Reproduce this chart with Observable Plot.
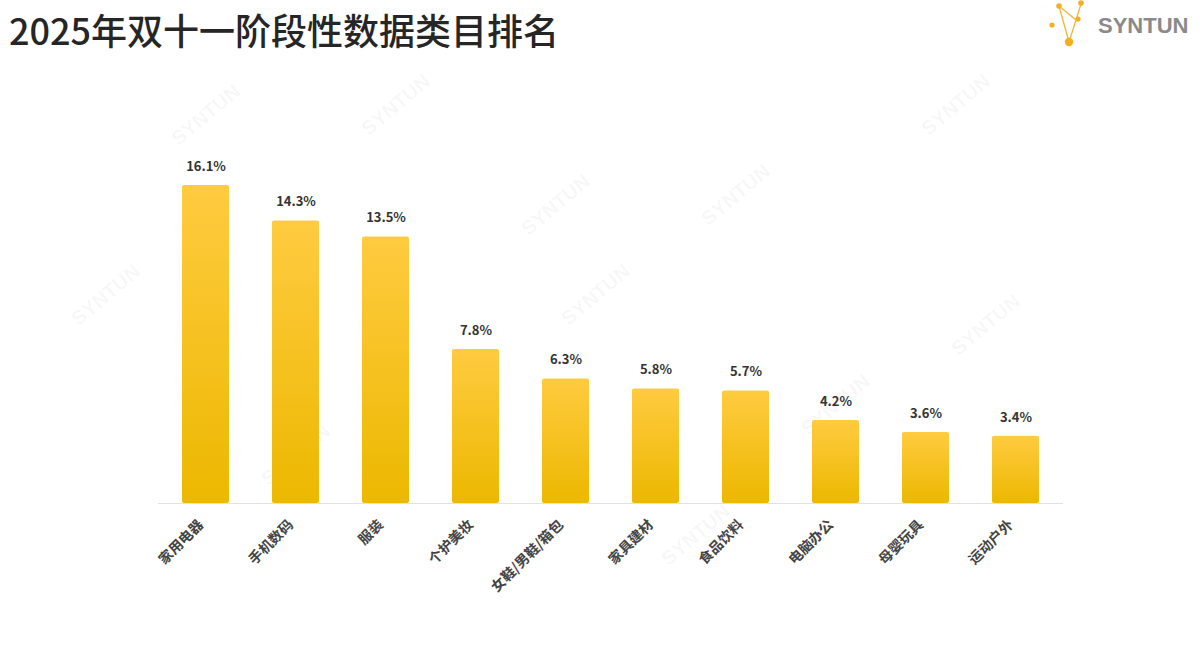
<!DOCTYPE html>
<html>
<head>
<meta charset="utf-8">
<script src="https://cdn.jsdelivr.net/npm/d3@7"></script>
<script src="https://cdn.jsdelivr.net/npm/@observablehq/plot@0.6"></script>
<style>
  html, body { margin: 0; padding: 0; background: #fff; }
  #wrap { position: relative; width: 1200px; height: 648px; overflow: hidden; font-family: "Noto Sans CJK SC", "Noto Sans", sans-serif; }
  #title { position: absolute; left: 9px; top: 11px; font-size: 36px; line-height: 36px; font-weight: 500; color: #262626; white-space: nowrap; }
  #logo { position: absolute; left: 1040px; top: 0px; }
  #chart { position: absolute; left: 0; top: 0; }
</style>
</head>
<body>
<div id="wrap">
  <div id="chart"></div>
  <div id="title">2025年双十一阶段性数据类目排名</div>
  <svg id="logo" width="160" height="50" viewBox="0 0 160 50">
    <g stroke="#f2b632" stroke-width="1.3" fill="none">
      <line x1="19" y1="6" x2="36" y2="20"/>
      <line x1="36" y1="20" x2="29" y2="42"/>
      <line x1="19" y1="6" x2="29" y2="42"/>
      <line x1="36" y1="20" x2="41" y2="4"/>
    </g>
    <g fill="#f2b020">
      <circle cx="19" cy="6" r="2.8"/>
      <circle cx="41" cy="3" r="2.8"/>
      <circle cx="38" cy="19" r="2.6"/>
      <circle cx="12" cy="25" r="2.6"/>
      <circle cx="29" cy="42" r="4.2"/>
    </g>
    <text x="58" y="33" font-family="Liberation Sans, Arial, sans-serif" font-size="22" font-weight="bold" fill="#8a8a8a">SYNTUN</text>
  </svg>
</div>
<script>
const categories = ["家用电器", "手机数码", "服装", "个护美妆", "女鞋/男鞋/箱包", "家具建材", "食品饮料", "电脑办公", "母婴玩具", "运动户外"];
const shares = [16.1, 14.3, 13.5, 7.8, 6.3, 5.8, 5.7, 4.2, 3.6, 3.4];
const labels = ["16.1%", "14.3%", "13.5%", "7.8%", "6.3%", "5.8%", "5.7%", "4.2%", "3.6%", "3.4%"];

const data = categories.map((c, i) => ({category: c, value: shares[i], label: labels[i]}));

const chart = Plot.plot({
  width: 1200,
  height: 648,
  marginLeft: 158,
  marginRight: 137,
  marginTop: 108,
  marginBottom: 145,
  style: {background: "transparent", fontFamily: "'Noto Sans CJK SC', sans-serif"},
  x: {domain: categories, paddingInner: 0.48, paddingOuter: 0.24, label: null},
  y: {domain: [0, 20], axis: null},
  marks: [
    Plot.barY(data, {x: "category", y: "value", fill: "url(#barGrad)", rx: 2}),
    Plot.ruleY([0], {stroke: "#e2e2e2", strokeWidth: 1.2}),
    Plot.text(data, {x: "category", y: "value", text: "label", dy: -19, fontSize: 13, fontWeight: "bold", fill: "#333"}),
    Plot.axisX({tickRotate: -45, tickSize: 0, tickPadding: 19, dx: -5, fontSize: 14, fontWeight: "bold", fill: "#444", label: null})
  ]
});

const svgNode = chart;
const ns = "http://www.w3.org/2000/svg";
const defs = document.createElementNS(ns, "defs");
svgNode.insertBefore(defs, svgNode.firstChild);
const grad = d3.select(defs).append("linearGradient").attr("id", "barGrad")
  .attr("x1", 0).attr("y1", 0).attr("x2", 0).attr("y2", 1);
grad.append("stop").attr("offset", "0%").attr("stop-color", "#ffcb40");
grad.append("stop").attr("offset", "100%").attr("stop-color", "#ecb800");

// faint decorative watermarks, placed behind the marks
const wm = [[110, 300], [400, 110], [210, 120], [560, 210], [740, 200], [600, 300], [990, 330], [840, 410], [300, 460], [700, 540], [960, 110]];
const wgNode = document.createElementNS(ns, "g");
svgNode.insertBefore(wgNode, defs.nextSibling);
const wg = d3.select(wgNode);
wm.forEach(([x, y]) => {
  wg.append("text").attr("x", x).attr("y", y)
    .attr("transform", `rotate(-40 ${x} ${y})`)
    .attr("font-family", "Liberation Sans, sans-serif").attr("font-weight", "bold")
    .attr("font-size", 20).attr("fill", "#000").attr("fill-opacity", 0.045)
    .attr("text-anchor", "middle").text("SYNTUN");
});

document.getElementById("chart").appendChild(chart);
</script>
</body>
</html>
